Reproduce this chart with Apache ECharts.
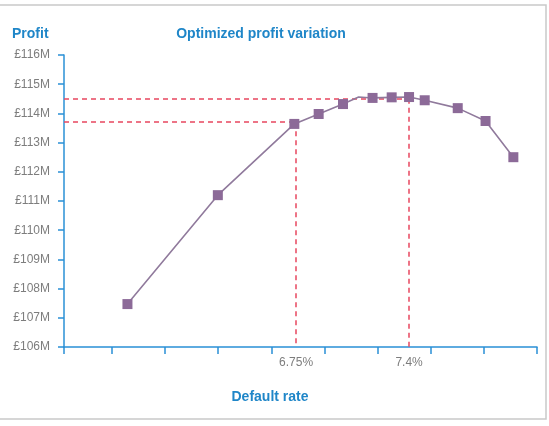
<!DOCTYPE html>
<html>
<head>
<meta charset="utf-8">
<script src="https://cdn.jsdelivr.net/npm/echarts@6/dist/echarts.min.js"></script>
<style>html,body{margin:0;padding:0;background:#fff}#c{width:549px;height:426px}</style>
</head>
<body>
<div id="c"></div>
<script>
// ---- data ----
const defaultRates = [5.78, 6.30, 6.74, 6.88, 7.02, 7.11, 7.19, 7.30, 7.40, 7.49, 7.68, 7.84, 8.00];
const profits      = [107.47, 111.2, 113.64, 113.98, 114.32, 114.56, 114.53, 114.55, 114.56, 114.45, 114.18, 113.74, 112.5];
const hiddenMarker = [false, false, false, false, false, true, false, false, false, false, false, false, false];
const xTickValues  = [5.415, 5.69, 5.996, 6.301, 6.612, 6.917, 7.222, 7.527, 7.831, 8.136];
const xLabelValues = [6.75, 7.4];
const refProfits   = [113.7, 114.5];
const yTicks       = [106, 107, 108, 109, 110, 111, 112, 113, 114, 115, 116];
const titleText = 'Optimized profit variation';
const yName = 'Profit';
const xName = 'Default rate';

const xMin = xTickValues[0], xMax = xTickValues[xTickValues.length - 1];
const yMin = yTicks[0], yMax = yTicks[yTicks.length - 1];

const blue = '#1f86c8';
const axisBlue = '#2a90d6';
const grey = '#7d7d7d';
const red = '#e8475f';

const chart = echarts.init(document.getElementById('c'), null, {renderer: 'canvas'});

const refLines = [];
xLabelValues.forEach((x, i) => {
  refLines.push([{coord: [xMin, refProfits[i]]}, {coord: [x, refProfits[i]]}]);
  refLines.push([{coord: [x, refProfits[i]]}, {coord: [x, yMin]}]);
});

chart.setOption({
  animation: false,
  grid: {left: 64, right: 12, top: 55, bottom: 79, containLabel: false},
  graphic: [
    {type: 'rect', shape: {x: -2, y: 5, width: 548, height: 414}, style: {fill: 'none', stroke: '#c9c9c9', lineWidth: 1.5}, z: -1},
    {type: 'text', x: 12, y: 34, style: {text: yName, fill: blue, font: 'bold 14px "Liberation Sans", Arial, sans-serif', textAlign: 'left', textVerticalAlign: 'middle'}},
    {type: 'text', x: 261, y: 34, style: {text: titleText, fill: blue, font: 'bold 14px "Liberation Sans", Arial, sans-serif', textAlign: 'center', textVerticalAlign: 'middle'}},
    {type: 'text', x: 270, y: 397, style: {text: xName, fill: blue, font: 'bold 14px "Liberation Sans", Arial, sans-serif', textAlign: 'center', textVerticalAlign: 'middle'}}
  ],
  xAxis: {
    type: 'value', min: xMin, max: xMax,
    axisLine: {show: true, lineStyle: {color: axisBlue, width: 1.5}},
    axisTick: {show: true, length: 7, inside: false, customValues: xTickValues, lineStyle: {color: axisBlue, width: 1.5}},
    axisLabel: {show: true, customValues: xLabelValues, formatter: v => v + '%', color: grey, fontSize: 12, margin: 10, fontFamily: '"Liberation Sans", Arial, sans-serif'},
    splitLine: {show: false}
  },
  yAxis: {
    type: 'value', min: yMin, max: yMax, interval: 1,
    axisLine: {show: true, lineStyle: {color: axisBlue, width: 1.5}},
    axisTick: {show: true, length: 6, lineStyle: {color: axisBlue, width: 1.5}},
    axisLabel: {formatter: v => '£' + v + 'M', color: grey, fontSize: 12, margin: 14, fontFamily: '"Liberation Sans", Arial, sans-serif'},
    splitLine: {show: false}
  },
  series: [{
    type: 'line',
    data: defaultRates.map((x, i) => hiddenMarker[i] ? {value: [x, profits[i]], symbolSize: 0} : [x, profits[i]]),
    symbol: 'rect', symbolSize: 10, showAllSymbol: true,
    itemStyle: {color: '#8c6a98'},
    lineStyle: {color: '#907a9c', width: 1.6},
    z: 3,
    markLine: {
      silent: true, symbol: ['none', 'none'], animation: false,
      label: {show: false},
      lineStyle: {color: red, type: [5, 4], width: 1.5},
      data: refLines,
      z: 2
    }
  }]
});
</script>
</body>
</html>
